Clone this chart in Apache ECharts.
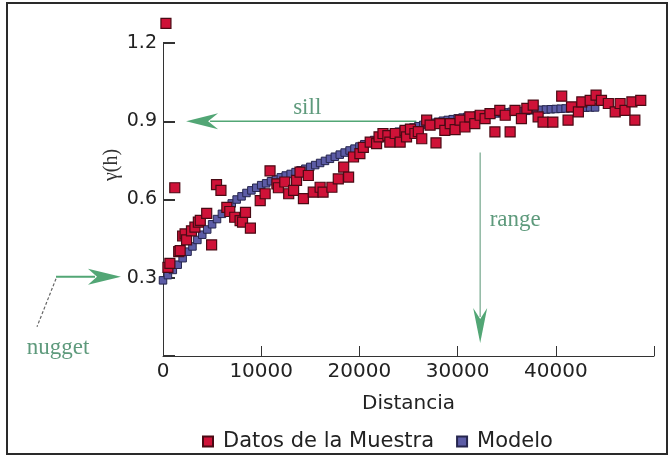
<!DOCTYPE html>
<html>
<head>
<meta charset="utf-8">
<script src="https://cdn.jsdelivr.net/npm/echarts@6/dist/echarts.min.js"></script>
<style>
html,body{margin:0;padding:0;background:#fff;}
#chart{width:671px;height:457px;}
</style>
</head>
<body>
<div id="chart"></div>
<script>
// ---- data ----
const sampleDist = [300,500,700,1200,1600,1750,2000,2250,2400,2900,3250,3600,3800,4450,4950,5450,5900,6500,6800,7300,7850,8100,8400,8900,9900,10400,10900,11600,11750,12400,12800,13300,13600,13950,14300,14800,15300,16000,16300,17200,17850,18400,18900,19400,20050,20400,21100,21750,22000,22400,22900,23100,23650,24150,24650,24800,25200,25650,26000,26350,26850,27200,27800,28200,28700,29250,29750,30250,30750,31250,31750,32300,32800,33300,33800,34300,34850,35350,35850,36500,37050,37700,38200,38700,39700,40600,41250,41600,42300,42650,43500,44100,44650,45350,46050,46550,47050,47750,48050,48650];
const sampleGamma = [1.275,0.34,0.355,0.645,0.40,0.404,0.46,0.468,0.445,0.48,0.494,0.513,0.52,0.547,0.426,0.657,0.635,0.57,0.554,0.532,0.519,0.513,0.551,0.49,0.596,0.622,0.71,0.66,0.645,0.667,0.622,0.635,0.673,0.705,0.603,0.692,0.628,0.647,0.628,0.647,0.679,0.724,0.686,0.763,0.776,0.80,0.82,0.814,0.84,0.853,0.845,0.82,0.853,0.82,0.865,0.84,0.87,0.853,0.86,0.833,0.904,0.885,0.817,0.891,0.865,0.891,0.868,0.904,0.878,0.917,0.891,0.923,0.91,0.929,0.859,0.942,0.923,0.859,0.942,0.91,0.949,0.962,0.917,0.897,0.897,0.996,0.904,0.955,0.936,0.974,0.98,1.0,0.98,0.968,0.936,0.968,0.942,0.974,0.904,0.98];
const modelDist = [0,500,1000,1500,2000,2500,3000,3500,4000,4500,5000,5500,6000,6500,7000,7500,8000,8500,9000,9500,10000,10500,11000,11500,12000,12500,13000,13500,14000,14500,15000,15500,16000,16500,17000,17500,18000,18500,19000,19500,20000,20500,21000,21500,22000,22500,23000,23500,24000,24500,25000,25500,26000,26500,27000,27500,28000,28500,29000,29500,30000,30500,31000,31500,32000,32500,33000,33500,34000,34500,35000,35500,36000,36500,37000,37500,38000,38500,39000,39500,40000,40500,41000,41500,42000,42500,43000,43500,44000];
const modelGamma = [0.29,0.31,0.33,0.35,0.375,0.40,0.42,0.445,0.465,0.485,0.505,0.525,0.545,0.565,0.585,0.60,0.612,0.625,0.635,0.645,0.655,0.662,0.67,0.677,0.685,0.692,0.698,0.705,0.712,0.718,0.725,0.732,0.74,0.748,0.756,0.764,0.772,0.78,0.788,0.795,0.803,0.812,0.82,0.828,0.835,0.842,0.848,0.854,0.86,0.866,0.871,0.876,0.881,0.886,0.89,0.894,0.898,0.902,0.905,0.908,0.911,0.914,0.917,0.919,0.922,0.924,0.926,0.928,0.93,0.932,0.934,0.936,0.937,0.939,0.94,0.942,0.943,0.944,0.945,0.946,0.947,0.948,0.949,0.95,0.951,0.952,0.952,0.953,0.953];
const xTicks = [0,10000,20000,30000,40000];
const yTicks = [0.3,0.6,0.9,1.2];
const seriesNames = ['Datos de la Muestra','Modelo'];
const annot = {sillY:0.9, sillFrom:25800, sillTo:2350, rangeX:32300, rangeFrom:0.78, rangeTo:0.05, nuggetY:0.3};

const sampleData = sampleDist.map((d,i)=>[d,sampleGamma[i]]);
const modelData = modelDist.map((d,i)=>[d,modelGamma[i]]);

const chart = echarts.init(document.getElementById('chart'), null, {renderer:'canvas'});
const sans = 'DejaVu Sans';
const serif = 'Liberation Serif';
const green = '#52a675';
const option = {
  animation:false,
  backgroundColor:'#fff',
  grid:{left:163,right:17,top:43,bottom:101,containLabel:false},
  xAxis:{type:'value',min:0,max:50000,interval:10000,
    name:'Distancia',nameLocation:'middle',nameGap:38,
    nameTextStyle:{fontFamily:sans,fontSize:20,color:'#222'},
    axisLine:{lineStyle:{color:'#333',width:1}},
    axisTick:{inside:true,length:10,lineStyle:{color:'#333'}},
    axisLabel:{margin:6,fontFamily:sans,fontSize:20,color:'#222',
      formatter:v=>xTicks.indexOf(v)>=0?String(v):''},
    splitLine:{show:false}},
  yAxis:{type:'value',min:0,max:1.2,interval:0.3,
    axisLine:{show:true,lineStyle:{color:'#333',width:1}},
    axisTick:{show:true,inside:true,length:12,lineStyle:{color:'#333',width:2}},
    axisLabel:{margin:6,fontFamily:sans,fontSize:19,color:'#222',
      formatter:v=>{const t=yTicks.find(k=>Math.abs(k-v)<1e-6);return t?t.toFixed(1):'';}},
    splitLine:{show:false}},
  legend:{data:seriesNames,left:197,top:426,itemWidth:10,itemHeight:10,itemGap:22,
    textStyle:{fontFamily:sans,fontSize:21,color:'#222',padding:[0,0,0,5]}},
  series:[
    {name:seriesNames[1],type:'scatter',symbol:'rect',symbolSize:7.5,clip:false,z:2,
     itemStyle:{color:'#5c5ca6',borderColor:'#26264e',borderWidth:1,opacity:1},data:modelData},
    {name:seriesNames[0],type:'scatter',symbol:'rect',symbolSize:10,clip:false,z:3,
     itemStyle:{color:'#cf1238',borderColor:'#4a0a14',borderWidth:1.2,opacity:1},data:sampleData}
  ]
};
chart.setOption(option);

const P = (x,y)=>chart.convertToPixel({gridIndex:0},[x,y]);
const s1 = P(annot.sillFrom,annot.sillY), s2 = P(annot.sillTo,annot.sillY);
const r1 = P(annot.rangeX,annot.rangeFrom), r2 = P(annot.rangeX,annot.rangeTo);
const n = P(0,annot.nuggetY);
const nTip = [n[0]-42,n[1]-1];
const nStart = [n[0]-107,n[1]-1];

chart.setOption({graphic:[
  {type:'rect',shape:{x:7,y:3,width:660,height:451},style:{fill:null,stroke:'#2a2a2a',lineWidth:2},silent:true},
  // sill
  {type:'line',shape:{x1:s1[0],y1:s1[1],x2:s2[0]+24,y2:s2[1]},style:{stroke:green,lineWidth:1.5}},
  {type:'polygon',shape:{points:[[s2[0],s2[1]],[s2[0]+32,s2[1]-8],[s2[0]+22,s2[1]],[s2[0]+32,s2[1]+8]]},style:{fill:green}},
  {type:'text',style:{x:(s1[0]+s2[0])/2+6,y:s1[1]-13,text:'sill',font:'23px "'+serif+'"',fill:'#5e9a7c',align:'center',verticalAlign:'middle'}},
  // range
  {type:'line',shape:{x1:r1[0],y1:r1[1],x2:r1[0],y2:r2[1]-26},style:{stroke:'#8fb8a2',lineWidth:1.5}},
  {type:'polygon',shape:{points:[[r2[0],r2[1]],[r2[0]-7,r2[1]-35],[r2[0],r2[1]-24],[r2[0]+7,r2[1]-35]]},style:{fill:green}},
  {type:'text',style:{x:r1[0]+35,y:P(0,0.52)[1],text:'range',font:'23px "'+serif+'"',fill:'#5e9a7c',align:'center',verticalAlign:'middle'}},
  // nugget
  {type:'line',shape:{x1:nStart[0],y1:nStart[1],x2:nTip[0]-26,y2:nTip[1]},style:{stroke:green,lineWidth:2}},
  {type:'polygon',shape:{points:[[nTip[0],nTip[1]],[nTip[0]-33,nTip[1]-8],[nTip[0]-24,nTip[1]],[nTip[0]-33,nTip[1]+8]]},style:{fill:green}},
  {type:'line',shape:{x1:nStart[0],y1:nStart[1]+2,x2:nStart[0]-19,y2:nStart[1]+50},style:{stroke:'#666',lineWidth:1.2,lineDash:[3,2]}},
  {type:'text',style:{x:nStart[0]+2,y:nStart[1]+71,text:'nugget',font:'23px "'+serif+'"',fill:'#5e9a7c',align:'center',verticalAlign:'middle'}},
  // y axis name
  {type:'text',x:112,y:165,rotation:Math.PI/2,style:{x:0,y:0,text:'γ(h)',font:'20px "'+serif+'"',fill:'#333',align:'center',verticalAlign:'middle'}}
]});
</script>
</body>
</html>
